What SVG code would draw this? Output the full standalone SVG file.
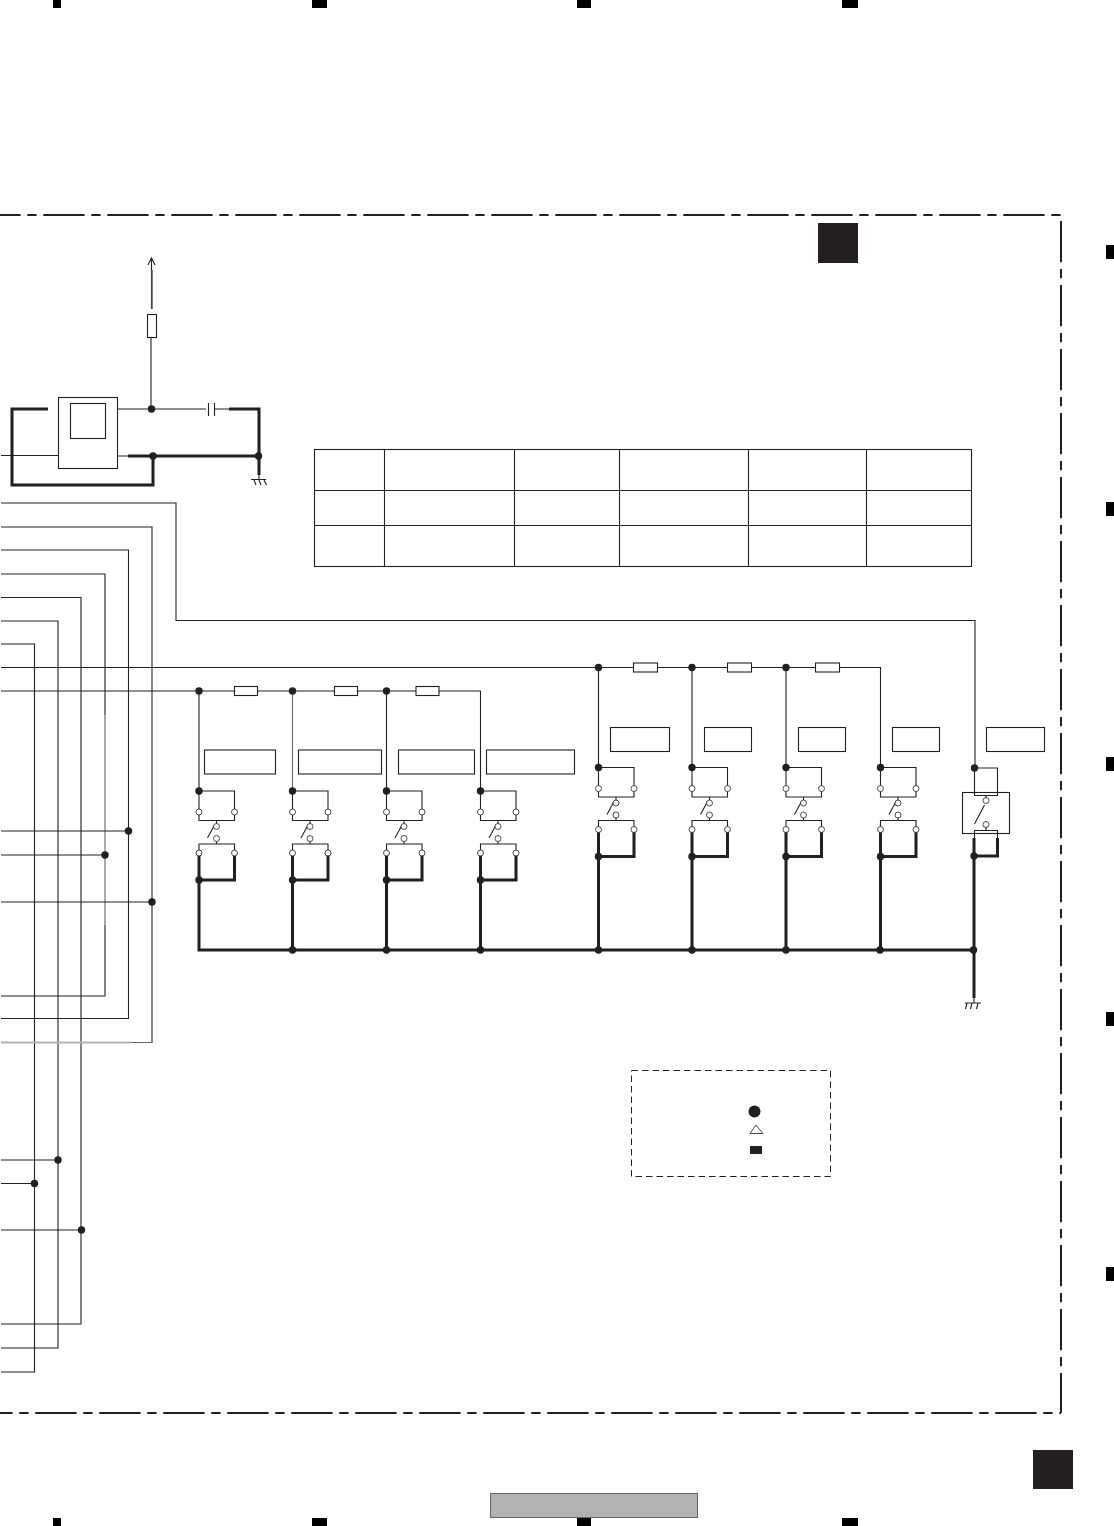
<svg xmlns="http://www.w3.org/2000/svg" width="1114" height="1526" viewBox="0 0 1114 1526">
<style>
.w{fill:none;stroke:#231f20;stroke-width:1.1}
.g{fill:none;stroke:#666;stroke-width:1.1}
.t{fill:none;stroke:#231f20;stroke-width:3;stroke-linejoin:miter}
.b{fill:#fff;stroke:#231f20;stroke-width:1.1}
.d{fill:#231f20}
.o{fill:#fff;stroke:#231f20;stroke-width:.8}
.k{fill:#000}
.f{fill:#231f20}
.bd{fill:none;stroke:#231f20;stroke-width:2;stroke-dasharray:41.300 6.700 9.300 6.700}
</style>
<defs>
<circle id="dot" r="3.700" class="d"/>
<circle id="oc" r="3" class="o"/>
<g id="swA">
<path class="w" d="M0 0H35.500V29.500H0ZM17.500 29.500V33M17.500 47V53M0 62V53H35.500V62"/>
<path class="w" d="M8.500 47L15.500 34"/>
<circle cx="17.500" cy="35.500" r="3" class="o"/>
<circle cx="17.500" cy="47.500" r="3" class="o"/>
<use href="#oc" x="0" y="21"/><use href="#oc" x="35.500" y="21"/>
<path class="t" d="M0 64V89H35.500V64"/>
<use href="#oc" x="0" y="62"/><use href="#oc" x="35.500" y="62"/>
<use href="#dot" x="0" y="89"/>
</g>
</defs>
<g id="registration-marks">
<rect class="k" x="53" y="0" width="8" height="8"/><rect class="k" x="312" y="0" width="15" height="8"/><rect class="k" x="577" y="0" width="14" height="8"/><rect class="k" x="842" y="0" width="16" height="8"/>
<rect class="k" x="53" y="1518" width="8" height="8"/><rect class="k" x="312" y="1518" width="15" height="8"/><rect class="k" x="577" y="1518" width="14" height="8"/><rect class="k" x="842" y="1518" width="16" height="8"/>
<rect class="k" x="1106" y="245" width="8" height="14"/><rect class="k" x="1106" y="502" width="8" height="14"/><rect class="k" x="1106" y="757" width="8" height="14"/><rect class="k" x="1106" y="1012" width="8" height="14"/><rect class="k" x="1106" y="1267" width="8" height="14"/>
</g>
<g id="border">
<path class="bd" d="M0 215H1061" stroke-dashoffset="20.700"/>
<path class="bd" d="M1061 221V1413"/>
<path class="bd" d="M0 1413H1061" stroke-dashoffset="28.700"/>
</g>
<rect id="tab-top" class="f" x="818" y="223" width="40" height="40"/>
<rect id="tab-bottom" class="f" x="1033" y="1450" width="40" height="39"/>
<rect id="footer" x="490.500" y="1493.500" width="207" height="24" fill="#b2b2b2" stroke="#666" stroke-width="1"/>
<g id="connectors">
<path class="w" d="M151.500 258V270M151 338V409M118 409H206M215 409H229"/>
<path d="M151.800 270V309" fill="none" stroke="#444" stroke-width="1.800"/>
<path class="w" d="M148 265L151.500 258L155 265"/>
<path class="w" d="M1 455.500H58M118 456H130"/>
<path class="t" d="M48 409H12V485H153V456M128 456H259M229 409H259V475"/>
<path class="w" d="M208.500 403V416M214.500 403V416" stroke-width="1.300"/>
<path class="w" d="M259 475V479.500M251 479.500H266M254 480L256 485M259 480L261 485M264 480L266.500 485"/>
<path class="w" d="M1 503H176V620.500H975V768M1 527H152V1042.500H130M1 550H128.500V1018.500H118M118 1018.500H1M1 574H105V715M105 925V996H1M1 597.500H81V1324H1M1 621H58V1348H1M1 644H34.500V1372H1"/>
<path class="g" d="M105 715V925M130 1042.500H152"/>
<path d="M1 1042.500H130" fill="none" stroke="#b2b2b2" stroke-width="1.800"/>
<path class="w" d="M1 667.500H880.500V768M1 691H480.500V791"/>
<path class="w" d="M199 691V791M386.500 691V791M598.500 667.500V768M692 667.500V768M786 667.500V768"/>
<path class="g" d="M292.500 691V791"/>
<path class="w" d="M1 831H128.500M1 855H105M1 902H152M1 1160H58M1 1183.500H34.500M1 1230H81"/>
<path class="t" d="M199 880V950H973.500M292.500 880V950M386.500 880V950M480.500 880V950M598.500 856V950M692 856V950M786 856V950M880.500 856V950M974 838V998"/>
<path class="w" d="M974 998V1003M965 1003H981M967 1003L965.500 1009M972 1003L970.500 1009M978 1003L976.500 1009"/>
</g>
<g id="junctions">
<use href="#dot" x="151.500" y="409"/><use href="#dot" x="153" y="456"/><use href="#dot" x="258.500" y="456"/>
<use href="#dot" x="128.500" y="831"/><use href="#dot" x="105" y="855"/><use href="#dot" x="152" y="902"/>
<use href="#dot" x="58" y="1160"/><use href="#dot" x="34.500" y="1183.500"/><use href="#dot" x="81.500" y="1230"/>
<use href="#dot" x="199" y="691"/><use href="#dot" x="292.500" y="691"/><use href="#dot" x="386.500" y="691"/>
<use href="#dot" x="598.500" y="667.500"/><use href="#dot" x="692" y="667.500"/><use href="#dot" x="786" y="667.500"/>
<use href="#dot" x="292.500" y="950"/><use href="#dot" x="386.500" y="950"/><use href="#dot" x="480.500" y="950"/><use href="#dot" x="598.500" y="950"/><use href="#dot" x="692" y="950"/><use href="#dot" x="786" y="950"/><use href="#dot" x="880" y="950"/><use href="#dot" x="973.500" y="950"/>
</g>
<g id="resistor-r1"><rect class="b" x="147.500" y="314.500" width="9" height="23"/></g>
<g id="relay"><rect class="b" x="58.500" y="397.500" width="59" height="71"/><rect class="b" x="70.500" y="403.500" width="35" height="35"/></g>
<g id="resistors">
<rect class="b" x="234.500" y="686.500" width="23" height="9"/><rect class="b" x="334.500" y="686.500" width="23" height="9"/><rect class="b" x="416" y="686.500" width="23" height="9"/>
<rect class="b" x="633.500" y="663" width="24" height="9"/><rect class="b" x="727.500" y="663" width="24" height="9"/><rect class="b" x="815.500" y="663" width="24" height="9"/>
</g>
<g id="table">
<rect class="b" x="314.500" y="449.500" width="657" height="117"/>
<path class="w" d="M314.500 490.500H971.500M314.500 525.500H971.500M384.500 449.500V566.500M514.500 449.500V566.500M619.500 449.500V566.500M748.500 449.500V566.500M866.500 449.500V566.500"/>
</g>
<g id="label-boxes">
<rect class="b" x="204.500" y="750" width="71" height="24"/><rect class="b" x="298.500" y="750" width="83" height="24"/><rect class="b" x="398.500" y="750" width="76" height="24"/><rect class="b" x="486.500" y="750" width="88" height="24"/>
<rect class="b" x="610.500" y="727.500" width="59" height="24"/><rect class="b" x="704.500" y="727.500" width="47" height="24"/><rect class="b" x="798.500" y="727.500" width="47" height="24"/><rect class="b" x="892.500" y="727.500" width="47" height="24"/><rect class="b" x="986.500" y="727.500" width="58" height="24"/>
</g>
<g id="switch-1"><use href="#swA" x="199" y="791"/><use href="#dot" x="199" y="791"/></g>
<g id="switch-2"><use href="#swA" x="292.500" y="791"/><use href="#dot" x="292.500" y="791"/></g>
<g id="switch-3"><use href="#swA" x="386.500" y="791"/><use href="#dot" x="386.500" y="791"/></g>
<g id="switch-4"><use href="#swA" x="480.500" y="791"/><use href="#dot" x="480.500" y="791"/></g>
<g id="switch-5"><use href="#swA" x="598.500" y="767.500"/><use href="#dot" x="598.500" y="767.500"/></g>
<g id="switch-6"><use href="#swA" x="692" y="767.500"/><use href="#dot" x="692" y="767.500"/></g>
<g id="switch-7"><use href="#swA" x="786" y="767.500"/><use href="#dot" x="786" y="767.500"/></g>
<g id="switch-8"><use href="#swA" x="880.500" y="767.500"/><use href="#dot" x="880.500" y="767.500"/></g>
<g id="switch-9">
<path class="w" d="M974.500 768H997.500V795.500H974.500Z"/>
<rect x="962.500" y="792.500" width="47" height="41" fill="none" stroke="#231f20" stroke-width="1.100"/>
<path class="w" d="M986 795.500V798M986 827V830.500M974.500 838V830.500H997.500V838"/>
<path class="w" d="M974.500 824L984.500 805"/>
<circle cx="986" cy="800.500" r="3" class="o"/><circle cx="986" cy="824.500" r="3" class="o"/>
<path class="t" d="M997.500 838V856H974"/>
<use href="#dot" x="974.500" y="768"/><use href="#dot" x="974" y="856"/>
</g>
<g id="legend">
<rect x="631.500" y="1070.500" width="199" height="106" fill="none" stroke="#231f20" stroke-width="1" stroke-dasharray="6.500 4"/>
<circle cx="754.500" cy="1111.500" r="6" class="d"/>
<path d="M750 1133.500L756 1125L763 1133.500Z" fill="#fff" stroke="#231f20" stroke-width=".8"/>
<rect class="f" x="750" y="1146" width="12" height="8"/>
</g>
</svg>
